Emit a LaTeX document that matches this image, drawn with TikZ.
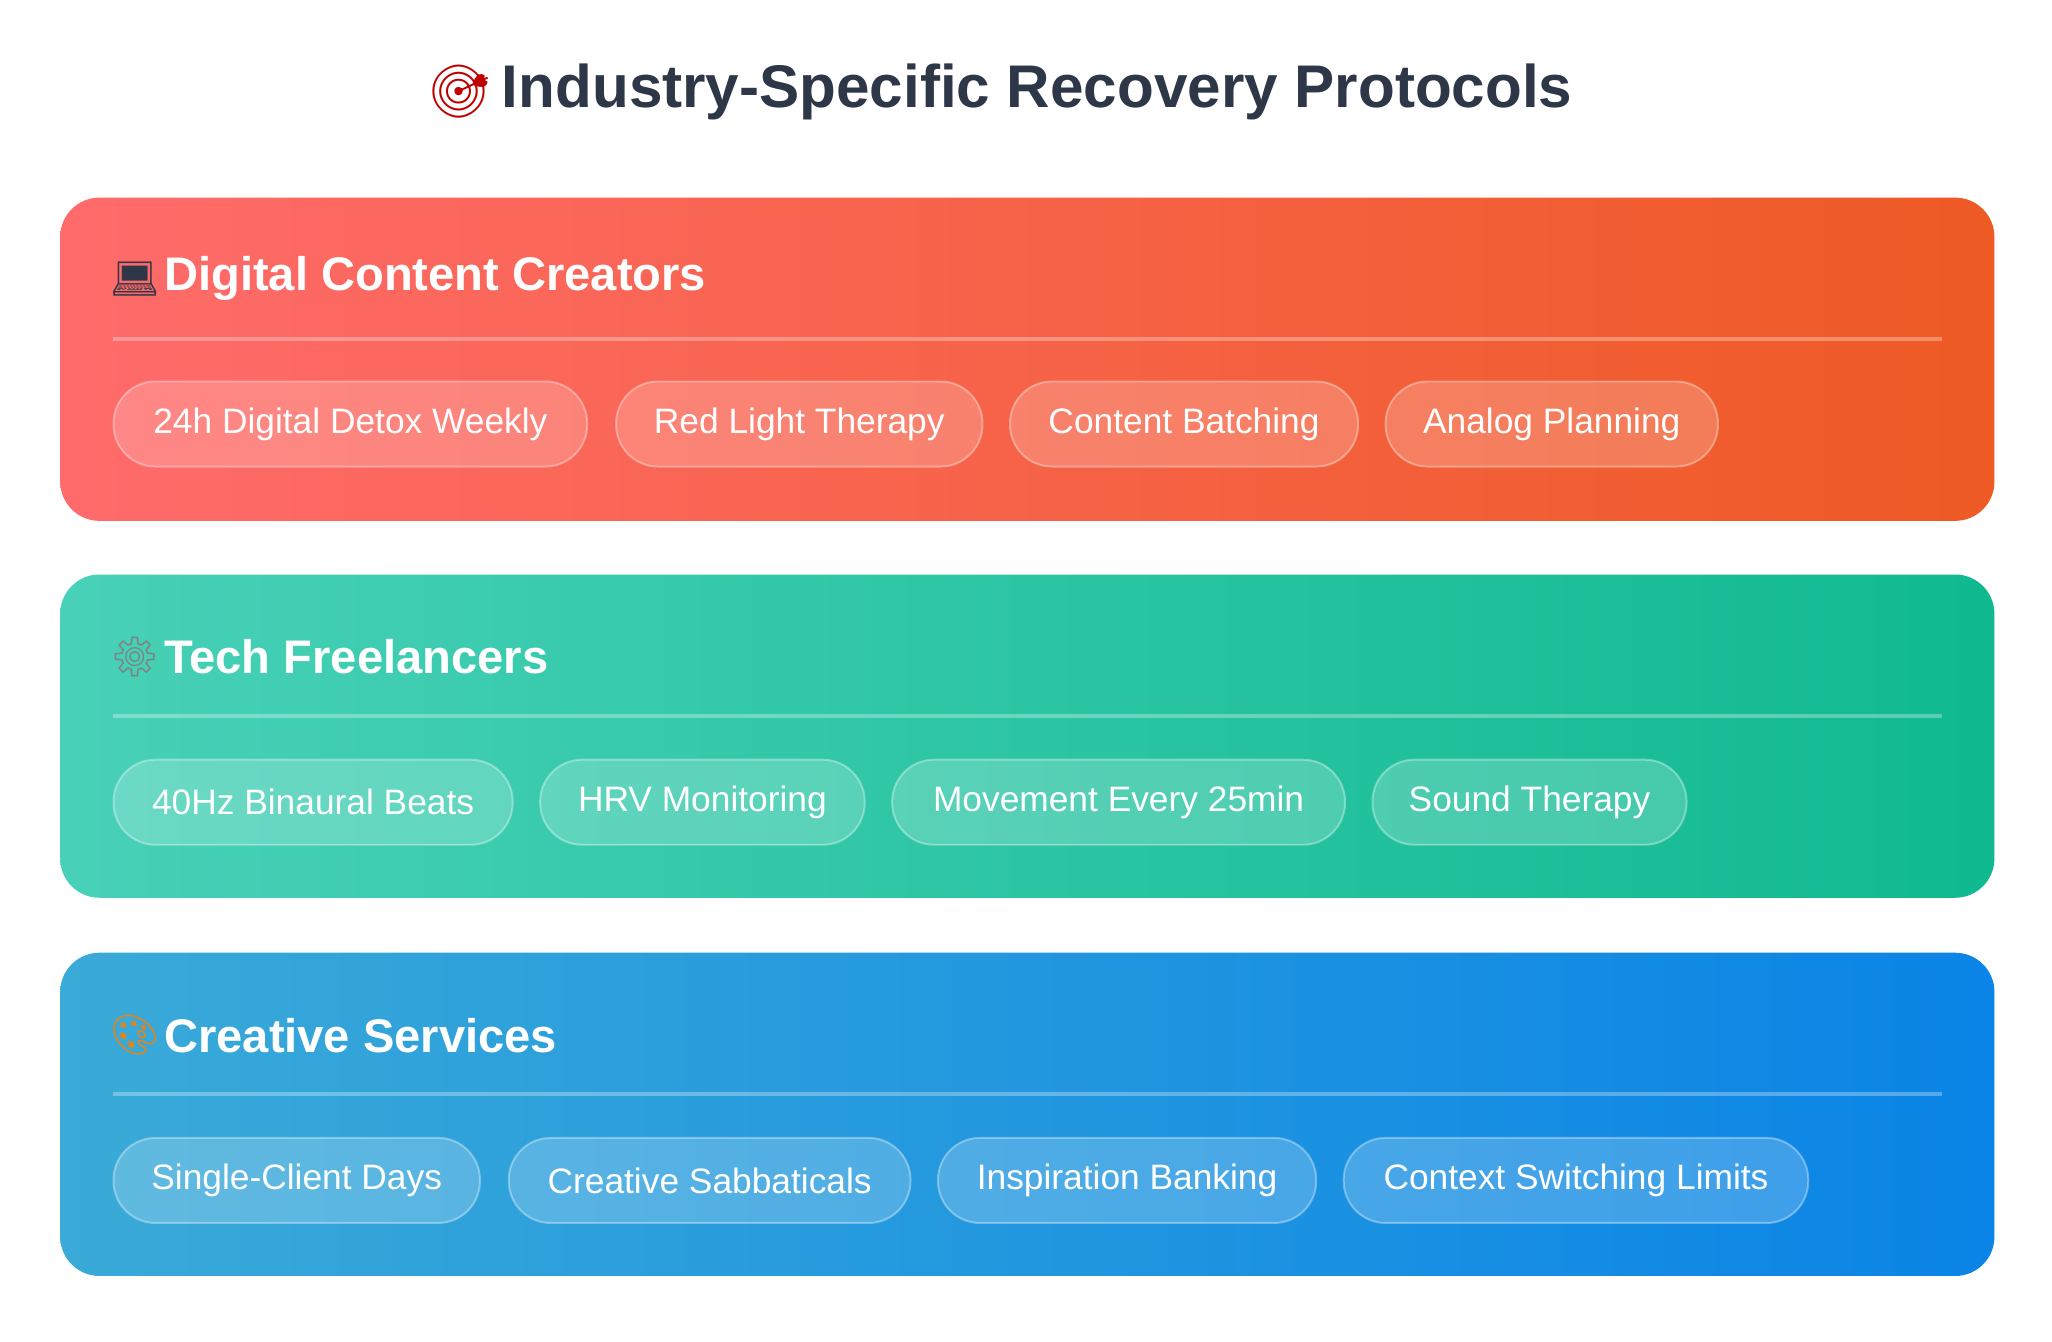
\documentclass[tikz,border=0pt]{standalone}
\usepackage{fontspec}
\setmainfont{Liberation Sans}
\newfontfamily\emo{Noto Emoji}
\definecolor{titlec}{HTML}{2D3748}
\definecolor{aL}{HTML}{FF6B6B}\definecolor{aR}{HTML}{EE5A24}
\definecolor{bL}{HTML}{48D1B8}\definecolor{bR}{HTML}{10B990}
\definecolor{cL}{HTML}{3AAAD8}\definecolor{cR}{HTML}{0A84E6}
\tikzset{
 pill/.style={draw=white,draw opacity=0.35,fill=white,fill opacity=0.2,text opacity=1,line width=1.5pt,rounded corners=32pt,minimum height=65pt,inner xsep=25pt,anchor=west,text=white,font=\fontsize{27}{30}\selectfont},
 head/.style={anchor=west,text=white,font=\bfseries\fontsize{36}{40}\selectfont},
 icon/.style={text=white,font=\emo\fontsize{30}{32}\selectfont},
 divider/.style={draw=white,draw opacity=0.3,line width=3pt}
}
\begin{document}
\begin{tikzpicture}[x=1pt,y=-1pt]
\useasboundingbox[fill=white] (0,0) rectangle (1568,1025);
\node[font=\emo\fontsize{40}{42}\selectfont,text=red!75!black] (ti) at (352,70) {🎯};
\node[anchor=west,text=titlec,font=\bfseries\fontsize{46}{50}\selectfont] (title) at (380,70) {Industry-Specific Recovery Protocols};
% card 1
\shade[left color=aL,right color=aR,rounded corners=30pt] (46,151) rectangle (1524,398);
\node[icon,text=titlec] (i1) at (103,213) {💻};
\node[head] (h1) at (122,213) {Digital Content Creators};
\draw[divider] (86,259) -- (1484,259);
\node[pill,minimum width=362pt] (p11) at (86,324) {24h Digital Detox Weekly};
\node[pill,minimum width=280pt] (p12) at (470,324) {Red Light Therapy};
\node[pill,minimum width=266pt] (p13) at (771,324) {Content Batching};
\node[pill,minimum width=254pt] (p14) at (1058,324) {Analog Planning};
% card 2
\shade[left color=bL,right color=bR,rounded corners=30pt] (46,439) rectangle (1524,686);
\node[icon,text=gray] (i2) at (103,502) {⚙};
\node[head] (h2) at (122,502) {Tech Freelancers};
\draw[divider] (86,547) -- (1484,547);
\node[pill,minimum width=305pt] (p21) at (86,613) {40Hz Binaural Beats};
\node[pill,minimum width=248pt] (p22) at (412,613) {HRV Monitoring};
\node[pill,minimum width=346pt] (p23) at (681,613) {Movement Every 25min};
\node[pill,minimum width=240pt] (p24) at (1048,613) {Sound Therapy};
% card 3
\shade[left color=cL,right color=cR,rounded corners=30pt] (46,728) rectangle (1524,975);
\node[icon,text=orange!80!brown] (i3) at (103,791) {🎨};
\node[head] (h3) at (122,791) {Creative Services};
\draw[divider] (86,836) -- (1484,836);
\node[pill,minimum width=280pt] (p31) at (86,902) {Single-Client Days};
\node[pill,minimum width=307pt] (p32) at (388,902) {Creative Sabbaticals};
\node[pill,minimum width=289pt] (p33) at (716,902) {Inspiration Banking};
\node[pill,minimum width=355pt] (p34) at (1026,902) {Context Switching Limits};
\end{tikzpicture}
\end{document}
